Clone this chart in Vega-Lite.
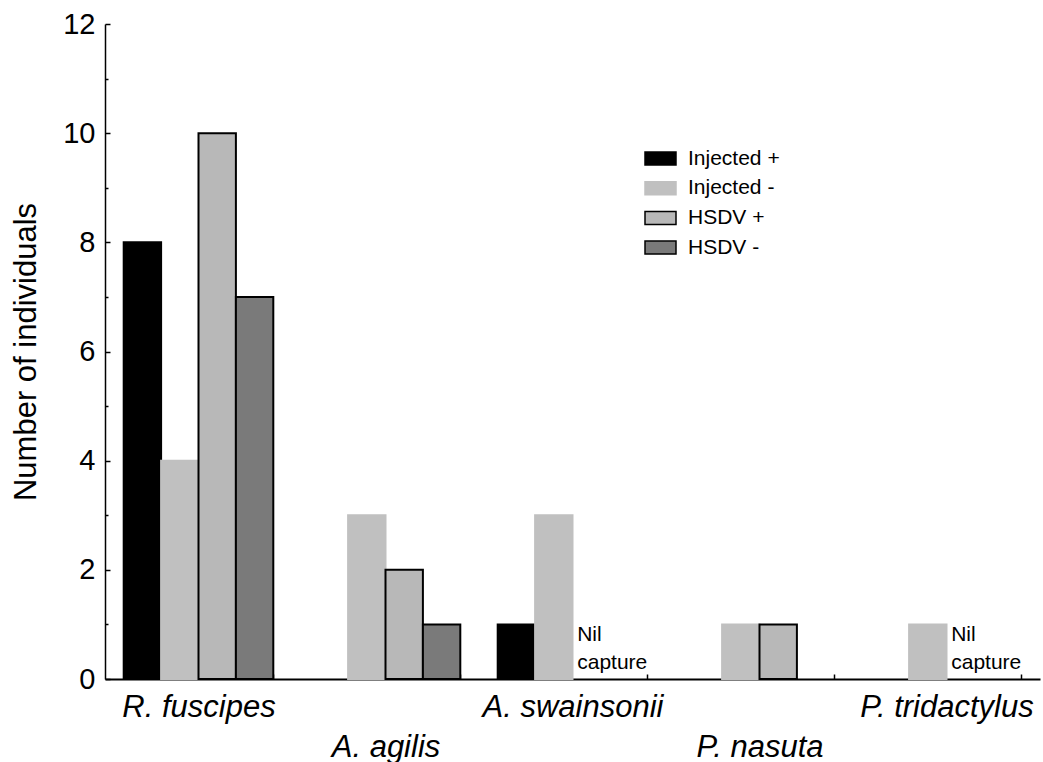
{
  "$schema": "https://vega.github.io/schema/vega-lite/v6.json",
  "width": 935,
  "height": 655,
  "autosize": "none",
  "padding": {"left": 105, "top": 24, "right": 3, "bottom": 83},
  "background": "white",
  "config": {"view": {"stroke": null}, "font": "Liberation Sans"},
  "datasets": {
    "counts": [
      {"species": "R. fuscipes", "series": "Injected +", "count": 8},
      {"species": "R. fuscipes", "series": "Injected -", "count": 4},
      {"species": "R. fuscipes", "series": "HSDV +", "count": 10},
      {"species": "R. fuscipes", "series": "HSDV -", "count": 7},
      {"species": "A. agilis", "series": "Injected -", "count": 3},
      {"species": "A. agilis", "series": "HSDV +", "count": 2},
      {"species": "A. agilis", "series": "HSDV -", "count": 1},
      {"species": "A. swainsonii", "series": "Injected +", "count": 1},
      {"species": "A. swainsonii", "series": "Injected -", "count": 3},
      {"species": "P. nasuta", "series": "Injected -", "count": 1},
      {"species": "P. nasuta", "series": "HSDV +", "count": 1},
      {"species": "P. tridactylus", "series": "Injected -", "count": 1}
    ],
    "notes": [
      {"species": "A. swainsonii", "note": "Nil\ncapture"},
      {"species": "P. tridactylus", "note": "Nil\ncapture"}
    ]
  },
  "layer": [
    {
      "data": {"name": "counts"},
      "mark": {"type": "bar", "strokeWidth": 2},
      "encoding": {
        "x": {
          "field": "species",
          "type": "nominal",
          "sort": ["R. fuscipes", "A. agilis", "A. swainsonii", "P. nasuta", "P. tridactylus"],
          "scale": {"domain": ["R. fuscipes", "A. agilis", "A. swainsonii", "P. nasuta", "P. tridactylus"], "paddingInner": 0.2, "paddingOuter": 0.1},
          "axis": {
            "title": null,
            "labelAngle": 0,
            "labelFontSize": 31,
            "labelFontStyle": "italic",
            "labelColor": "black",
            "labelPadding": 18,
            "labelOverlap": false,
            "labelBound": false,
            "labelLimit": 0,
            "labelLineHeight": 40,
            "labelExpr": "indexof(['A. agilis','P. nasuta'], datum.value) >= 0 ? ['', datum.label] : datum.label",
            "tickBand": "extent",
            "tickSize": -5,
            "tickColor": "black",
            "tickWidth": 1.5,
            "domainColor": "black",
            "domainWidth": 2
          }
        },
        "xOffset": {
          "field": "series",
          "type": "nominal",
          "scale": {"domain": ["Injected +", "Injected -", "HSDV +", "HSDV -"]}
        },
        "y": {
          "field": "count",
          "type": "quantitative",
          "scale": {"domain": [0, 12], "nice": false},
          "axis": {
            "title": "Number of individuals",
            "titleFontSize": 31,
            "titleFontWeight": "normal",
            "titleColor": "black",
            "titlePadding": 20,
            "values": [0, 1, 2, 3, 4, 5, 6, 7, 8, 9, 10, 11, 12],
            "format": "d",
            "labelExpr": "datum.value % 2 ? '' : datum.label",
            "labelFontSize": 29,
            "labelColor": "black",
            "labelPadding": 15,
            "grid": false,
            "tickColor": "black",
            "tickWidth": 1.5,
            "tickSize": {"condition": {"test": "datum.value % 2 === 1", "value": -3}, "value": -5},
            "domainColor": "black",
            "domainWidth": 1.5
          }
        },
        "color": {
          "field": "series",
          "type": "nominal",
          "scale": {"domain": ["Injected +", "Injected -", "HSDV +", "HSDV -"], "range": ["#000000", "#c0c0c0", "#b8b8b8", "#7a7a7a"]},
          "legend": {
            "title": null,
            "orient": "none",
            "legendX": 539,
            "legendY": 118,
            "padding": 0,
            "symbolType": "M-1,-0.42H1V0.42H-1Z",
            "symbolSize": 961,
            "symbolStrokeWidth": 1.5,
            "symbolOpacity": 1,
            "labelFontSize": 21,
            "labelColor": "black",
            "labelOffset": 11,
            "rowPadding": 2.7
          }
        },
        "stroke": {
          "field": "series",
          "type": "nominal",
          "scale": {"domain": ["Injected +", "Injected -", "HSDV +", "HSDV -"], "range": ["#000000", "#c0c0c0", "#000000", "#000000"]}
        }
      }
    },
    {
      "data": {"name": "notes"},
      "mark": {"type": "text", "align": "left", "baseline": "top", "fontSize": 21, "lineHeight": 28, "lineBreak": "\n", "color": "black", "dx": -14},
      "encoding": {
        "x": {"field": "species", "type": "nominal"},
        "xOffset": {"datum": "HSDV +"},
        "y": {"datum": 1},
        "text": {"field": "note", "type": "nominal"}
      }
    }
  ]
}
